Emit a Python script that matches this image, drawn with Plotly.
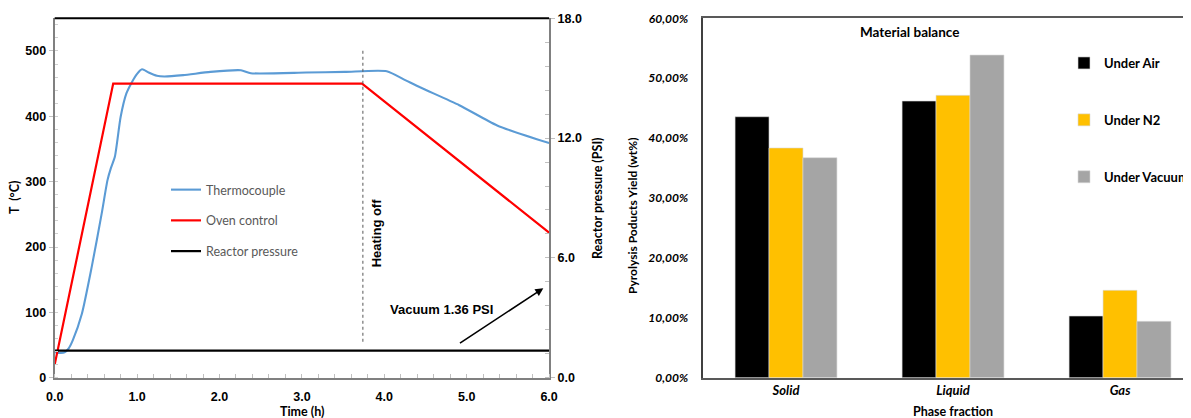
import plotly.graph_objects as go

# ---------------- Data (left chart) ----------------
tc_time = [0.0, 0.03, 0.12, 0.17, 0.22, 0.33, 0.45, 0.57, 0.64, 0.68, 0.73, 0.80, 0.87,
           0.94, 1.00, 1.06, 1.14, 1.24, 1.33, 1.56, 1.89, 2.26, 2.38, 3.05, 3.52, 4.03,
           4.26, 4.44, 4.91, 5.37, 6.0]
tc_temp = [40, 38, 39, 45, 57.6, 98, 170, 251, 302, 320, 338, 399, 435,
           453, 465, 472, 467, 462, 461, 463, 468, 470.5, 466, 467, 468, 469,
           455, 444, 417, 386, 359]

oven_time = [0.0, 0.71, 3.73, 6.0]
oven_temp = [20, 450, 450, 222]

pressure_time = [0.0, 6.0]
pressure_psi = [1.36, 1.36]

heating_off_time = 3.74

# ---------------- Data (right chart) ----------------
phases = ["Solid", "Liquid", "Gas"]
under_air = [0.4357, 0.4619, 0.1030]
under_n2 = [0.3835, 0.4714, 0.1459]
under_vacuum = [0.3673, 0.5387, 0.0941]
pct_ticks = [0.0, 0.1, 0.2, 0.3, 0.4, 0.5, 0.6]
pct_labels = ["0,00%", "10,00%", "20,00%", "30,00%", "40,00%", "50,00%", "60,00%"]

# The page body has an 8px margin, so the figure is sized to the visible area
OFF = 8
REF_W, REF_H = 1191, 418
FW, FH = REF_W - OFF, REF_H - OFF


def fx(px):
    return (px - OFF) / FW


def fy(py):
    return (REF_H - py) / FH


ARIAL = "Liberation Sans"
CAL = "Lato"

fig = go.Figure()

# Left chart traces
fig.add_trace(go.Scatter(x=tc_time, y=tc_temp, mode="lines", name="Thermocouple",
                         line=dict(color="#5B9BD5", width=2.1, shape="spline", smoothing=0.6),
                         xaxis="x", yaxis="y", legend="legend", legendgroup="a"))
fig.add_trace(go.Scatter(x=oven_time, y=oven_temp, mode="lines", name="Oven control",
                         line=dict(color="#FF0000", width=2.2),
                         xaxis="x", yaxis="y", legend="legend", legendgroup="b"))
fig.add_trace(go.Scatter(x=pressure_time, y=pressure_psi, mode="lines", name="Reactor pressure",
                         line=dict(color="#000000", width=2.2),
                         xaxis="x", yaxis="y2", legend="legend", legendgroup="c"))
fig.add_trace(go.Scatter(x=[heating_off_time, heating_off_time], y=[55, 502], mode="lines",
                         line=dict(color="#555555", width=1, dash="dot"), showlegend=False,
                         xaxis="x", yaxis="y", hoverinfo="skip"))

# Right chart traces
for name, vals, col, g in [("Under Air", under_air, "#000000", "d"),
                           ("Under N2", under_n2, "#FFC000", "e"),
                           ("Under Vacuum", under_vacuum, "#A5A5A5", "f")]:
    fig.add_trace(go.Bar(x=phases, y=vals, name=name,
                         marker=dict(color=col, line=dict(color="#D9D9D9", width=0.6)),
                         xaxis="x3", yaxis="y3", legend="legend2", legendgroup=g))

x1dom = [fx(54.7), fx(549.1)]
ydom = [fy(377.7), fy(18.3)]
x3dom = [fx(702.5), 1.0]

tickfont_l = dict(family=ARIAL, size=12.5, color="#000000", weight="bold")


def label(text, px, py, size=12.5, angle=0, family=CAL):
    return dict(text=text, x=fx(px), y=fy(py), xref="paper", yref="paper", showarrow=False,
                xanchor="center", yanchor="middle", textangle=angle,
                font=dict(family=family, size=size, color="#000000", weight="bold"))


fig.update_layout(
    width=FW, height=FH,
    margin=dict(l=0, r=0, t=0, b=0, autoexpand=False),
    paper_bgcolor="white", plot_bgcolor="white",
    barmode="group", bargap=0.39, bargroupgap=0,
    xaxis=dict(domain=x1dom, range=[0, 6], anchor="y", tickvals=[0, 1, 2, 3, 4, 5, 6],
               tickformat=".1f", tickfont=tickfont_l, showgrid=False, zeroline=False,
               showline=True, linecolor="#808080", linewidth=2, ticks="", ticklabelstandoff=6,
               minor=dict(dtick=0.2, ticks="inside", ticklen=4, tickcolor="#C0C0C0", showgrid=False)),
    yaxis=dict(domain=ydom, range=[0, 550], anchor="x", tickvals=[0, 100, 200, 300, 400, 500],
               tickfont=tickfont_l, showgrid=False, zeroline=False, showline=True,
               linecolor="#808080", linewidth=2, ticks="outside", ticklen=4, tickcolor="#C0C0C0",
               minor=dict(dtick=20, ticks="inside", ticklen=3, tickcolor="#D0D0D0", showgrid=False)),
    yaxis2=dict(overlaying="y", side="right", anchor="x", range=[0, 18], tickvals=[0, 6, 12, 18],
                tickformat=".1f", tickfont=tickfont_l, showgrid=False, zeroline=False, showline=True,
                linecolor="#808080", linewidth=2, ticks="outside", ticklen=4, tickcolor="#C0C0C0",
                minor=dict(dtick=1.2, ticks="inside", ticklen=4, tickcolor="#C0C0C0", showgrid=False)),
    xaxis3=dict(domain=x3dom, anchor="y3", range=[-0.5, 2.425], showgrid=False, zeroline=False,
                showline=True, linecolor="#595959", linewidth=2, mirror=True, ticks="",
                tickfont=dict(family=CAL, size=13, color="#000000", weight="bold", style="italic")),
    yaxis3=dict(domain=ydom, anchor="x3", range=[0, 0.6], tickvals=pct_ticks, ticktext=pct_labels,
                showgrid=False, zeroline=False, showline=True, linecolor="#404040", linewidth=2,
                ticks="", ticklabelstandoff=10,
                tickfont=dict(family=CAL, size=12, color="#000000", weight="bold", style="italic")),
    legend=dict(x=fx(166), y=fy(175), xanchor="left", yanchor="top", bgcolor="rgba(0,0,0,0)",
                font=dict(family=CAL, size=12.5, color="#595959"), tracegroupgap=11.5, itemwidth=30),
    legend2=dict(x=fx(1064), y=fy(48), xanchor="left", yanchor="top", bgcolor="rgba(0,0,0,0)",
                 font=dict(family=CAL, size=13, color="#000000", weight="bold"), tracegroupgap=37,
                 itemwidth=30),
    shapes=[dict(type="line", xref="x domain", yref="y domain", x0=0, x1=1, y0=1, y1=1,
                 line=dict(color="#000000", width=2))],
    annotations=[
        label("T  (°C)", 14, 197, angle=-90),
        label("Time (h)", 302, 411),
        label("Reactor pressure (PSI)", 597, 198, angle=-90),
        dict(text="Heating off", x=3.90, y=221, xref="x", yref="y", showarrow=False, textangle=-90,
             xanchor="center", yanchor="middle",
             font=dict(family=ARIAL, size=13, color="#000000", weight="bold")),
        dict(text="Vacuum 1.36 PSI", x=4.70, y=104, xref="x", yref="y", showarrow=False,
             xanchor="center", yanchor="middle",
             font=dict(family=ARIAL, size=13, color="#000000", weight="bold")),
        dict(text="", x=5.93, y=137, ax=4.9, ay=51.5, xref="x", yref="y", axref="x", ayref="y",
             showarrow=True, arrowhead=2, arrowsize=1, arrowwidth=1.6, arrowcolor="#000000"),
        label("Material balance", 909, 32, size=13.5),
        label("Pyrolysis Poducts Yield (wt%)", 632, 216, size=12, angle=-90),
        label("Phase fraction", 953, 411),
    ],
)

fig.write_html("out.html")
